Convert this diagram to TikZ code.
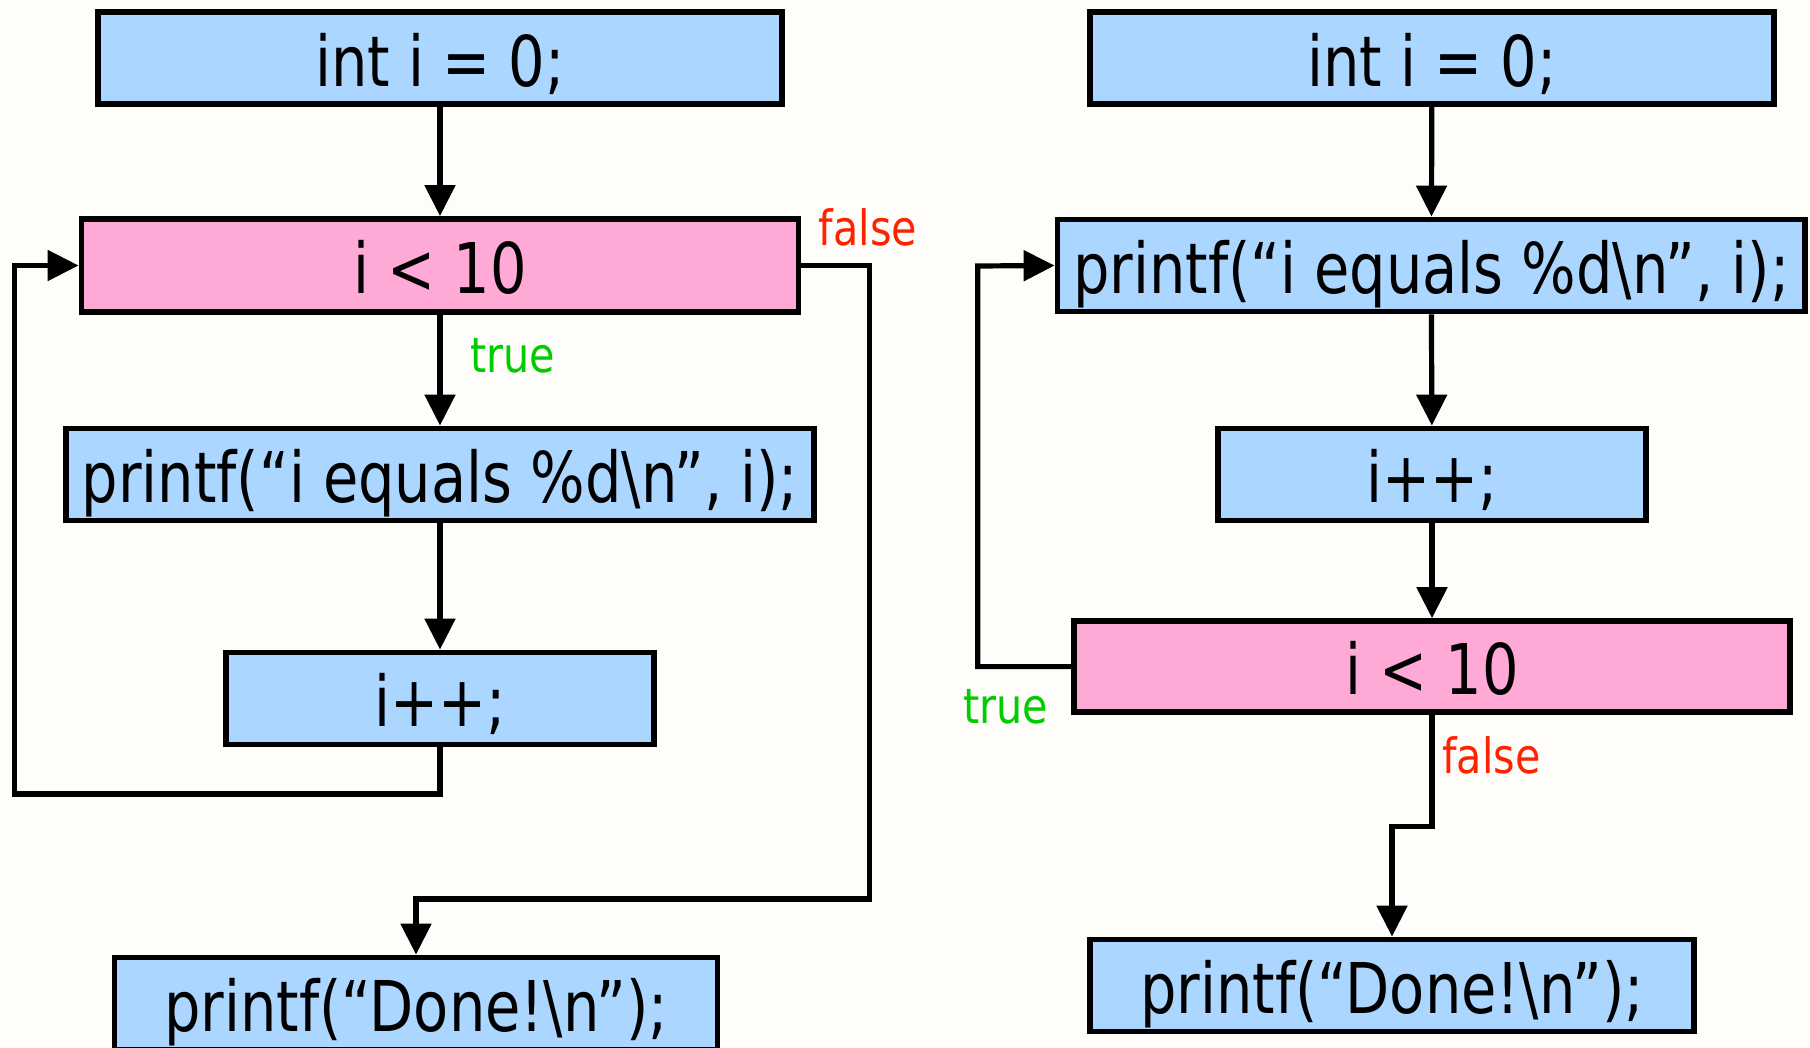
\documentclass[tikz,border=0pt]{standalone}
\usepackage{fontspec}
\usetikzlibrary{arrows.meta}
\newfontfamily\mainf{DejaVu Sans}[FakeStretch=0.82]
\newfontfamily\labf{DejaVu Sans}[FakeStretch=0.85]
\definecolor{bgc}{RGB}{255,253,250}
\definecolor{boxblue}{RGB}{170,214,255}
\definecolor{boxpink}{RGB}{255,170,214}
\definecolor{tgreen}{RGB}{0,204,0}
\definecolor{fred}{RGB}{255,34,0}
\tikzset{
  stmt/.style={draw=black, line width=2.9pt, fill=boxblue, inner sep=0pt,
    minimum height=46pt, text height=28pt, text depth=0pt,
    font=\mainf\fontsize{35}{40}\selectfont},
  cond/.style={stmt, fill=boxpink},
  arr/.style={line width=2.6pt, -{Triangle[length=15.5pt,width=15pt]}},
  tlab/.style={text=tgreen, inner sep=0pt, font=\labf\fontsize{24.3}{28}\selectfont},
  flab/.style={text=fred, inner sep=0pt, font=\labf\fontsize{24.3}{28}\selectfont}
}
\begin{document}
\begin{tikzpicture}[x=0.5pt, y=-0.5pt]
\fill[bgc] (0,0) rectangle (1810,1048);
\useasboundingbox (0,0) rectangle (1810,1048);
% left flowchart
\node[stmt, minimum width=342pt] (LA) at (440,58.3) {int i = 0;};
\node[cond, minimum width=358.5pt, minimum height=46.5pt] (LP) at (440,265.5) {i < 10};
\node[stmt, minimum width=373.75pt] (LPr) at (440,474.5) {printf(“i equals \%d\textbackslash n”, i);};
\node[stmt, minimum width=214pt] (LI) at (440,698.5) {i++;};
\node[stmt, minimum width=301.5pt] (LD) at (416,1003.5) {printf(“Done!\textbackslash n”);};
\coordinate (l1) at (14.5,794);
\coordinate (l2) at (869.5,899);
\draw[arr] (LA) -- (LP);
\draw[arr] (LP) -- (LPr);
\draw[arr] (LPr) -- (LI);
\draw[arr] (LI.south) |- (l1) |- (LP.west);
\draw[arr] (LP.east) -| (l2) -| (LD.north);
\node[tlab] (lt) at (512.5,355.5) {true};
\node[flab] (lf) at (868,227) {false};
% right flowchart
\node[stmt, minimum width=342pt] (RA) at (1432,58.3) {int i = 0;};
\node[stmt, minimum width=373.8pt] (RP) at (1431.3,265.5) {printf(“i equals \%d\textbackslash n”, i);};
\node[stmt, minimum width=214pt] (RI) at (1432,474.5) {i++;};
\node[cond, minimum width=358.3pt, minimum height=45.5pt] (RC) at (1432,666.6) {i < 10};
\node[stmt, minimum width=301.8pt] (RD) at (1392,985.5) {printf(“Done!\textbackslash n”);};
\coordinate (r1) at (977.7,266);
\coordinate (r2) at (1392,826.5);
\draw[arr] (RA) -- (RP);
\draw[arr] (RP) -- (RI);
\draw[arr] (RI) -- (RC);
\draw[arr] (RC.west) -| (r1) -- (RP.west);
\draw[arr] (RC.south) |- (r2) -- (RD.north);
\node[tlab] (rt) at (1005.4,706.4) {true};
\node[flab] (rf) at (1491.4,755) {false};
\end{tikzpicture}
\end{document}
